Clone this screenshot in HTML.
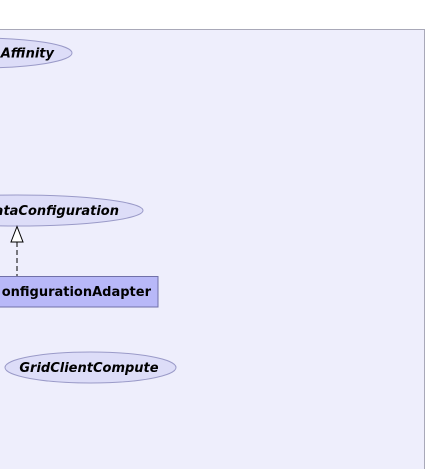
<!DOCTYPE html>
<html><head><style>html,body{margin:0;padding:0;background:#fff}svg{display:block}</style></head>
<body>
<svg width="425" height="469" xmlns="http://www.w3.org/2000/svg" font-family="DejaVu Sans, sans-serif" font-size="13">
<rect x="-10" y="29.5" width="434.5" height="450" fill="#eeeefc" stroke="#a8a8b8" stroke-width="1"/>
<ellipse cx="-20" cy="53" rx="92" ry="15" fill="#ddddf8" stroke="#9a9ac8"/>
<text x="54" y="57.5" text-anchor="end" font-weight="bold" font-style="italic">Affinity</text>
<ellipse cx="17" cy="210.5" rx="126" ry="15.5" fill="#ddddf8" stroke="#9a9ac8"/>
<text x="119" y="215" text-anchor="end" font-weight="bold" font-style="italic">ataConfiguration</text>
<line x1="17" y1="242" x2="17" y2="276" stroke="#000" stroke-dasharray="5,3"/>
<polygon points="17,226.5 11,242 23,242" fill="#fff" stroke="#000"/>
<rect x="-5" y="276.5" width="163" height="30.5" fill="#b8b8f8" stroke="#7070a8"/>
<text x="151" y="296" text-anchor="end" font-weight="bold">onfigurationAdapter</text>
<ellipse cx="90.5" cy="367.5" rx="85.5" ry="15.5" fill="#ddddf8" stroke="#9a9ac8"/>
<text x="89" y="372" text-anchor="middle" font-weight="bold" font-style="italic">GridClientCompute</text>
</svg>
</body></html>
